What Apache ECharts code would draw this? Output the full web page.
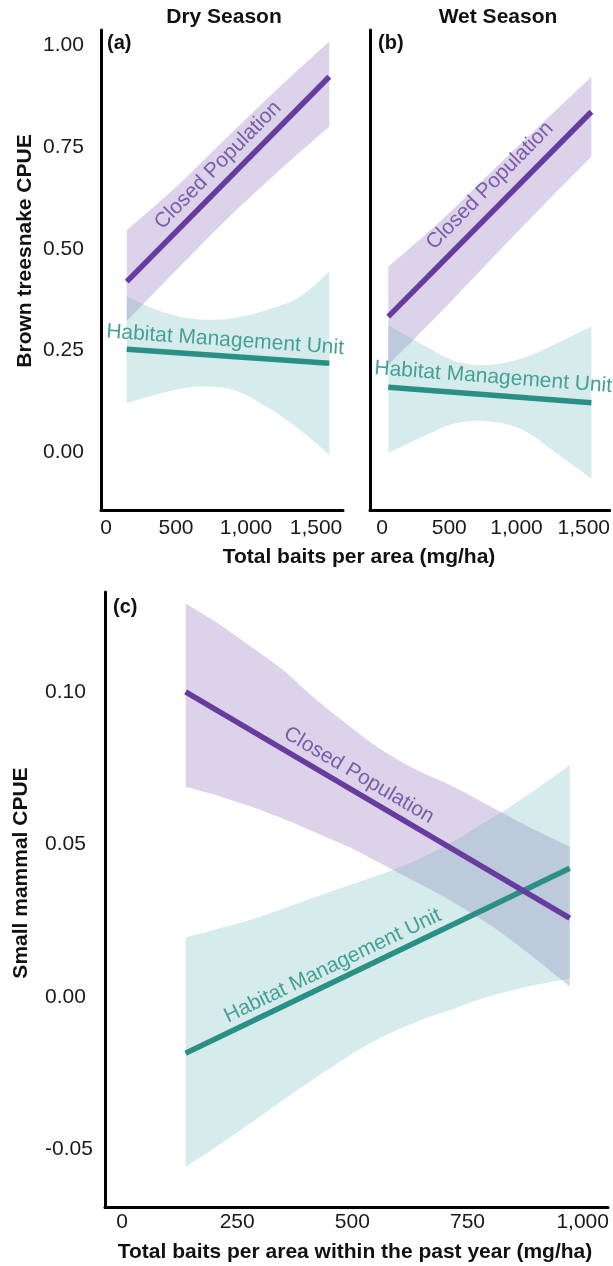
<!DOCTYPE html>
<html>
<head>
<meta charset="utf-8">
<title>CPUE vs total baits per area</title>
<script src="https://cdn.jsdelivr.net/npm/echarts@6/dist/echarts.min.js"></script>
<style>
  html, body { margin: 0; padding: 0; background: #ffffff; }
  #chart { width: 613px; height: 1266px; }
</style>
</head>
<body>
<div id="chart"></div>
<script>
// ---- Tick labels ----
const snakeXTicks = [0, 500, 1000, 1500];
const snakeXLabels = ['0', '500', '1,000', '1,500'];
const snakeYTicks = [0, 0.25, 0.5, 0.75, 1];
const snakeYLabels = ['0.00', '0.25', '0.50', '0.75', '1.00'];
const mammalXTicks = [0, 250, 500, 750, 1000];
const mammalXLabels = ['0', '250', '500', '750', '1,000'];
const mammalYTicks = [-0.05, 0, 0.05, 0.1];
const mammalYLabels = ['-0.05', '0.00', '0.05', '0.10'];

// ---- (a) Dry season, brown treesnake CPUE ----
const dryFitX = [148, 1595];
const dryClosedFit = [0.419, 0.923];
const dryHmuFit = [0.253, 0.218];
const dryClosedBandX = [148, 510, 870, 1230, 1595];
const dryClosedUpper = [0.546, 0.655, 0.776, 0.895, 1.010];
const dryClosedLower = [0.322, 0.450, 0.575, 0.690, 0.800];
const dryHmuBandX = [148, 433, 671, 909, 1148, 1386, 1595];
const dryHmuUpper = [0.382, 0.341, 0.326, 0.329, 0.349, 0.382, 0.444];
const dryHmuLower = [0.120, 0.148, 0.161, 0.153, 0.111, 0.054, -0.007];

// ---- (b) Wet season, brown treesnake CPUE ----
const wetFitX = [47, 1557];
const wetClosedFit = [0.333, 0.837];
const wetHmuFit = [0.159, 0.121];
const wetClosedBandX = [47, 425, 800, 1180, 1557];
const wetClosedUpper = [0.456, 0.565, 0.685, 0.805, 0.923];
const wetClosedLower = [0.214, 0.340, 0.470, 0.600, 0.726];
const wetHmuBandX = [47, 307, 554, 802, 1049, 1297, 1557];
const wetHmuUpper = [0.312, 0.263, 0.222, 0.214, 0.231, 0.267, 0.308];
const wetHmuLower = [-0.003, 0.038, 0.071, 0.075, 0.054, -0.003, -0.065];

// ---- (c) Small mammal CPUE ----
const mamFitX = [138, 972];
const mamClosedFit = [0.1002, 0.0258];
const mamHmuFit = [-0.0186, 0.0422];
const mamClosedBandX = [138, 210, 280, 350, 420, 495, 565, 640, 720, 800, 880, 972];
const mamClosedUpper = [0.1292, 0.1225, 0.1150, 0.1073, 0.0978, 0.0887, 0.0810, 0.0745, 0.0690, 0.0625, 0.0560, 0.0493];
const mamClosedLower = [0.0690, 0.0660, 0.0625, 0.0585, 0.0540, 0.0490, 0.0435, 0.0375, 0.0310, 0.0235, 0.0145, 0.0033];
const mamHmuBandX = [138, 205, 278, 350, 423, 495, 567, 640, 712, 784, 864, 972];
const mamHmuUpper = [0.0195, 0.0222, 0.0252, 0.0290, 0.0329, 0.0367, 0.0405, 0.0449, 0.0504, 0.0570, 0.0646, 0.0761];
const mamHmuLower = [-0.0558, -0.0493, -0.0416, -0.0339, -0.0263, -0.0192, -0.0131, -0.0082, -0.0044, -0.0005, 0.0028, 0.0060];

// ---- Styling ----
const FONT = '"Liberation Sans", Arial, sans-serif';
const PURPLE = '#683c9e';
const TEAL = '#2a9087';
const PURPLE_BAND = 'rgba(138,108,185,0.30)';
const TEAL_BAND = 'rgba(91,175,175,0.25)';
const PURPLE_TEXT = '#7b5ca9';
const TEAL_TEXT = '#45a098';

function labelFor(ticks, labels) {
  return function (v) {
    let best = 0;
    for (let i = 1; i < ticks.length; i++) {
      if (Math.abs(ticks[i] - v) < Math.abs(ticks[best] - v)) best = i;
    }
    return labels[best];
  };
}

function makeAxis(gridIndex, min, max, ticks, labels, label) {
  return {
    type: 'value',
    gridIndex: gridIndex,
    min: min,
    max: max,
    axisLine: { show: true, onZero: false, lineStyle: { color: '#000', width: 3 } },
    axisTick: { show: false },
    splitLine: { show: false },
    axisLabel: Object.assign({
      customValues: ticks,
      formatter: labelFor(ticks, labels),
      fontSize: 21,
      fontFamily: FONT,
      color: '#1a1a1a'
    }, label)
  };
}

// Catmull-Rom curve through pixel points, written as cubic Bezier segments.
function curveThrough(pts, start) {
  let d = start ? 'M' + pts[0][0] + ',' + pts[0][1] : 'L' + pts[0][0] + ',' + pts[0][1];
  for (let i = 0; i < pts.length - 1; i++) {
    const p0 = pts[Math.max(i - 1, 0)];
    const p1 = pts[i];
    const p2 = pts[i + 1];
    const p3 = pts[Math.min(i + 2, pts.length - 1)];
    const c1x = p1[0] + (p2[0] - p0[0]) / 6, c1y = p1[1] + (p2[1] - p0[1]) / 6;
    const c2x = p2[0] - (p3[0] - p1[0]) / 6, c2y = p2[1] - (p3[1] - p1[1]) / 6;
    d += 'C' + c1x + ',' + c1y + ',' + c2x + ',' + c2y + ',' + p2[0] + ',' + p2[1];
  }
  return d;
}

function band(axisIndex, xs, lower, upper, fill) {
  const rows = xs.map((x, i) => [x, lower[i], upper[i]]);
  return {
    type: 'custom',
    xAxisIndex: axisIndex,
    yAxisIndex: axisIndex,
    silent: true,
    z: 1,
    encode: { x: 0, y: [1, 2] },
    data: rows,
    renderItem: function (params, api) {
      if (params.dataIndex !== 0) return null;
      const top = rows.map(r => api.coord([r[0], r[2]]));
      const bottom = rows.slice().reverse().map(r => api.coord([r[0], r[1]]));
      const d = curveThrough(top, true) + curveThrough(bottom, false) + 'Z';
      return { type: 'path', shape: { pathData: d }, style: { fill: fill } };
    }
  };
}

function fitLine(axisIndex, xs, ys, color) {
  return {
    type: 'line',
    xAxisIndex: axisIndex,
    yAxisIndex: axisIndex,
    silent: true,
    z: 3,
    showSymbol: false,
    data: xs.map((x, i) => [x, ys[i]]),
    lineStyle: { color: color, width: 5.5, cap: 'butt' }
  };
}

const chart = echarts.init(document.getElementById('chart'), null, { renderer: 'canvas' });

chart.setOption({
  animation: false,
  backgroundColor: '#ffffff',
  grid: [
    { left: 101, top: 30, width: 242, height: 480 },
    { left: 370, top: 30, width: 240, height: 480 },
    { left: 105, top: 592, width: 503, height: 615 }
  ],
  xAxis: [
    makeAxis(0, -36, 1693, snakeXTicks, snakeXLabels, { margin: 8 }),
    makeAxis(1, -89, 1693, snakeXTicks, snakeXLabels, { margin: 8 }),
    makeAxis(2, -37, 1055, mammalXTicks, mammalXLabels, { margin: 5 })
  ],
  yAxis: [
    makeAxis(0, -0.1427, 1.038, snakeYTicks, snakeYLabels, { margin: 58, align: 'left' }),
    makeAxis(1, -0.1427, 1.038, snakeYTicks, snakeYLabels, { show: false }),
    makeAxis(2, -0.0691, 0.1330, mammalYTicks, mammalYLabels, { margin: 60, align: 'left' })
  ],
  series: [
    band(0, dryClosedBandX, dryClosedLower, dryClosedUpper, PURPLE_BAND),
    band(0, dryHmuBandX, dryHmuLower, dryHmuUpper, TEAL_BAND),
    fitLine(0, dryFitX, dryHmuFit, TEAL),
    fitLine(0, dryFitX, dryClosedFit, PURPLE),

    band(1, wetClosedBandX, wetClosedLower, wetClosedUpper, PURPLE_BAND),
    band(1, wetHmuBandX, wetHmuLower, wetHmuUpper, TEAL_BAND),
    fitLine(1, wetFitX, wetHmuFit, TEAL),
    fitLine(1, wetFitX, wetClosedFit, PURPLE),

    band(2, mamClosedBandX, mamClosedLower, mamClosedUpper, PURPLE_BAND),
    band(2, mamHmuBandX, mamHmuLower, mamHmuUpper, TEAL_BAND),
    fitLine(2, mamFitX, mamHmuFit, TEAL),
    fitLine(2, mamFitX, mamClosedFit, PURPLE)
  ]
});

// Text set along a fitted line: t = position along the segment, off = distance above it.
function lineLabel(axisIndex, xs, ys, t, off, text, color, size) {
  const finder = { xAxisIndex: axisIndex, yAxisIndex: axisIndex };
  const p0 = chart.convertToPixel(finder, [xs[0], ys[0]]);
  const p1 = chart.convertToPixel(finder, [xs[1], ys[1]]);
  const dx = p1[0] - p0[0], dy = p1[1] - p0[1];
  const len = Math.sqrt(dx * dx + dy * dy);
  const nx = dy / len, ny = -dx / len;
  return {
    type: 'text',
    x: p0[0] + dx * t + nx * off,
    y: p0[1] + dy * t + ny * off,
    rotation: Math.atan2(-dy, dx),
    silent: true,
    z: 10,
    style: {
      text: text,
      fill: color,
      font: size + 'px ' + FONT,
      textAlign: 'center',
      textVerticalAlign: 'middle'
    }
  };
}

function title(text, x, y, size, rotation, align) {
  return {
    type: 'text',
    x: x,
    y: y,
    rotation: rotation || 0,
    silent: true,
    z: 10,
    style: {
      text: text,
      fill: '#111',
      font: 'bold ' + size + 'px ' + FONT,
      textAlign: align || 'center',
      textVerticalAlign: 'middle'
    }
  };
}

chart.setOption({
  graphic: [
    title('Dry Season', 224, 17, 21),
    title('Wet Season', 498, 17, 21),
    title('(a)', 107, 43, 20, 0, 'left'),
    title('(b)', 378, 43, 20, 0, 'left'),
    title('(c)', 113, 607, 20, 0, 'left'),
    title('Brown treesnake CPUE', 25, 251, 21, Math.PI / 2),
    title('Total baits per area (mg/ha)', 359, 557, 21),
    title('Small mammal CPUE', 21, 873, 21, Math.PI / 2),
    title('Total baits per area within the past year (mg/ha)', 355, 1252, 21),

    lineLabel(0, dryFitX, dryClosedFit, 0.51, 17, 'Closed Population', PURPLE_TEXT, 21),
    lineLabel(0, dryFitX, dryHmuFit, 0.48, 16, 'Habitat Management Unit', TEAL_TEXT, 21),
    lineLabel(1, wetFitX, wetClosedFit, 0.57, 20, 'Closed Population', PURPLE_TEXT, 21),
    lineLabel(1, wetFitX, wetHmuFit, 0.51, 18, 'Habitat Management Unit', TEAL_TEXT, 21),
    lineLabel(2, mamFitX, mamClosedFit, 0.43, 16, 'Closed Population', PURPLE_TEXT, 21),
    lineLabel(2, mamFitX, mamHmuFit, 0.40, 15, 'Habitat Management Unit', TEAL_TEXT, 21)
  ]
});
</script>
</body>
</html>
